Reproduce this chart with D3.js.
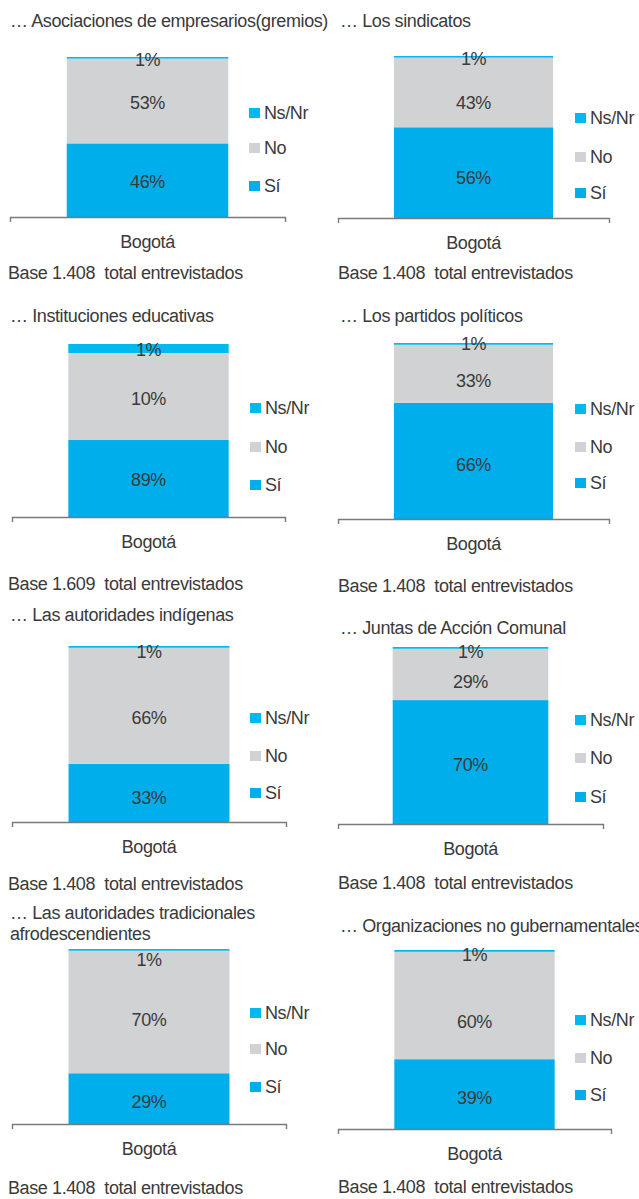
<!DOCTYPE html>
<html>
<head>
<meta charset="utf-8">
<script src="https://cdn.jsdelivr.net/npm/d3@7"></script>
<style>
  body { margin: 0; background: #fff; }
  svg { display: block; font-family: "Liberation Sans", Arial, sans-serif; }
  svg text { letter-spacing: -0.4px; }
</style>
</head>
<body>
<div id="chart"></div>
<script>
// one small stacked bar per question, Bogotá only
const titles = [
  ["… Asociaciones de empresarios(gremios)"],
  ["… Los sindicatos"],
  ["… Instituciones educativas"],
  ["… Los partidos políticos"],
  ["… Las autoridades indígenas"],
  ["… Juntas de Acción Comunal"],
  ["… Las autoridades tradicionales", "afrodescendientes"],
  ["… Organizaciones no gubernamentales"]
];
const categories = ["Bogotá"];
const seriesNames = ["Sí", "No", "Ns/Nr"];

// heights as drawn in the picture (panel 3 is drawn out of proportion to its labels)
const siValues = [46, 56, 44.5, 66, 33, 70, 29, 39];
const noValues = [53, 43, 50.3, 33, 66, 29, 70, 60];
const nsValues = [1, 1, 5.2, 1, 1, 1, 1, 1];

const siLabels = ["46%", "56%", "89%", "66%", "33%", "70%", "29%", "39%"];
const noLabels = ["53%", "43%", "10%", "33%", "66%", "29%", "70%", "60%"];
const nsLabels = ["1%", "1%", "1%", "1%", "1%", "1%", "1%", "1%"];

const baseTexts = [
  "Base 1.408  total entrevistados",
  "Base 1.408  total entrevistados",
  "Base 1.609  total entrevistados",
  "Base 1.408  total entrevistados",
  "Base 1.408  total entrevistados",
  "Base 1.408  total entrevistados",
  "Base 1.408  total entrevistados",
  "Base 1.408  total entrevistados"
];

const width = 639;
const height = 1199;
const fontSize = 18;
const colours = { "Sí": "#00aeeb", "No": "#d1d2d4", "Ns/Nr": "#00b9ef" };
const textColour = "#3a3a3a";

// panel placement (pixels)
const panels = [
  { tx: 10, ty: [27], x0: 10, x1: 285, top: 57, bottom: 217, legX: 249, legY: [113, 148, 186], baseX: 8, baseY: 279, off: [1.5, 2, 2] },
  { tx: 340, ty: [27], x0: 338, x1: 609, top: 56, bottom: 218, legX: 575, legY: [118, 157, 193], baseX: 338, baseY: 279, off: [5.5, 10, 2] },
  { tx: 10, ty: [322], x0: 12, x1: 285, top: 344, bottom: 517, legX: 250, legY: [408, 447, 485], baseX: 8, baseY: 590, off: [1.5, 2.5, 1] },
  { tx: 340, ty: [322], x0: 338, x1: 609, top: 343, bottom: 519, legX: 575, legY: [409, 447, 483], baseX: 338, baseY: 592, off: [4, 7, 0] },
  { tx: 10, ty: [621], x0: 12, x1: 286, top: 646, bottom: 822, legX: 250, legY: [718, 756, 793], baseX: 8, baseY: 890, off: [5, 12, 5] },
  { tx: 340, ty: [634], x0: 338, x1: 603, top: 647, bottom: 824, legX: 575, legY: [720, 758, 797], baseX: 338, baseY: 889, off: [3, 7, 4] },
  { tx: 10, ty: [919, 940], x0: 12, x1: 286, top: 949, bottom: 1124, legX: 250, legY: [1013, 1049, 1087], baseX: 8, baseY: 1194, off: [3, 8, 10] },
  { tx: 340, ty: [932], x0: 338, x1: 611, top: 950, bottom: 1129, legX: 575, legY: [1020, 1058, 1095], baseX: 338, baseY: 1193, off: [4, 16, 4] }
];

const svg = d3.select("#chart")
  .append("svg")
  .attr("width", width)
  .attr("height", height);

svg.append("rect").attr("width", width).attr("height", height).attr("fill", "#fff");

panels.forEach((p, i) => drawPanel(p, i));

function drawPanel(p, i) {
  const g = svg.append("g");

  // title
  g.append("text")
    .attr("x", p.tx)
    .attr("font-size", fontSize)
    .attr("fill", textColour)
    .selectAll("tspan")
    .data(titles[i])
    .join("tspan")
    .attr("x", p.tx)
    .attr("y", (d, k) => p.ty[k])
    .text((d) => d);

  const x = d3.scaleBand()
    .domain(categories)
    .range([p.x0, p.x1])
    .paddingInner(0.26)
    .paddingOuter(0.26);

  const y = d3.scaleLinear()
    .domain([0, 100])
    .range([p.bottom, p.top]);

  const rows = [{ cat: categories[0], "Sí": siValues[i], "No": noValues[i], "Ns/Nr": nsValues[i] }];
  const stack = d3.stack().keys(seriesNames)(rows);
  const labels = { "Sí": siLabels[i], "No": noLabels[i], "Ns/Nr": nsLabels[i] };

  // bars
  g.selectAll("g.layer")
    .data(stack)
    .join("g")
    .attr("class", "layer")
    .attr("fill", (d) => colours[d.key])
    .selectAll("rect")
    .data((d) => d)
    .join("rect")
    .attr("x", (d) => x(d.data.cat))
    .attr("width", x.bandwidth())
    .attr("y", (d) => y(d[1]))
    .attr("height", (d) => y(d[0]) - y(d[1]));

  // value labels
  g.selectAll("text.val")
    .data(stack)
    .join("text")
    .attr("class", "val")
    .attr("x", (d) => x(d[0].data.cat) + x.bandwidth() / 2)
    .attr("y", (d, k) => (y(d[0][0]) + y(d[0][1])) / 2 + p.off[k])
    .attr("dy", "0.35em")
    .attr("text-anchor", "middle")
    .attr("font-size", fontSize)
    .attr("fill", textColour)
    .text((d) => labels[d.key]);

  // axis
  const axis = g.append("g")
    .attr("transform", `translate(0,${p.bottom})`)
    .call(d3.axisBottom(x).tickSizeInner(0).tickSizeOuter(5).tickPadding(18));
  axis.select(".domain").attr("stroke", "#7a7a7a").attr("stroke-width", 1.4);
  axis.selectAll(".tick text")
    .attr("font-size", fontSize)
    .attr("font-family", null)
    .attr("fill", textColour);

  // legend, Ns/Nr on top
  const legendOrder = ["Ns/Nr", "No", "Sí"];
  const leg = g.selectAll("g.leg")
    .data(legendOrder)
    .join("g")
    .attr("class", "leg")
    .attr("transform", (d, k) => `translate(${p.legX},${p.legY[k]})`);
  leg.append("rect")
    .attr("x", 0)
    .attr("y", -5)
    .attr("width", 11)
    .attr("height", 10)
    .attr("fill", (d) => colours[d]);
  leg.append("text")
    .attr("x", 15)
    .attr("dy", "0.35em")
    .attr("font-size", fontSize)
    .attr("fill", textColour)
    .text((d) => d);

  // base note
  g.append("text")
    .attr("x", p.baseX)
    .attr("y", p.baseY)
    .attr("font-size", fontSize)
    .attr("fill", textColour)
    .style("white-space", "pre")
    .text(baseTexts[i]);
}
</script>
</body>
</html>
